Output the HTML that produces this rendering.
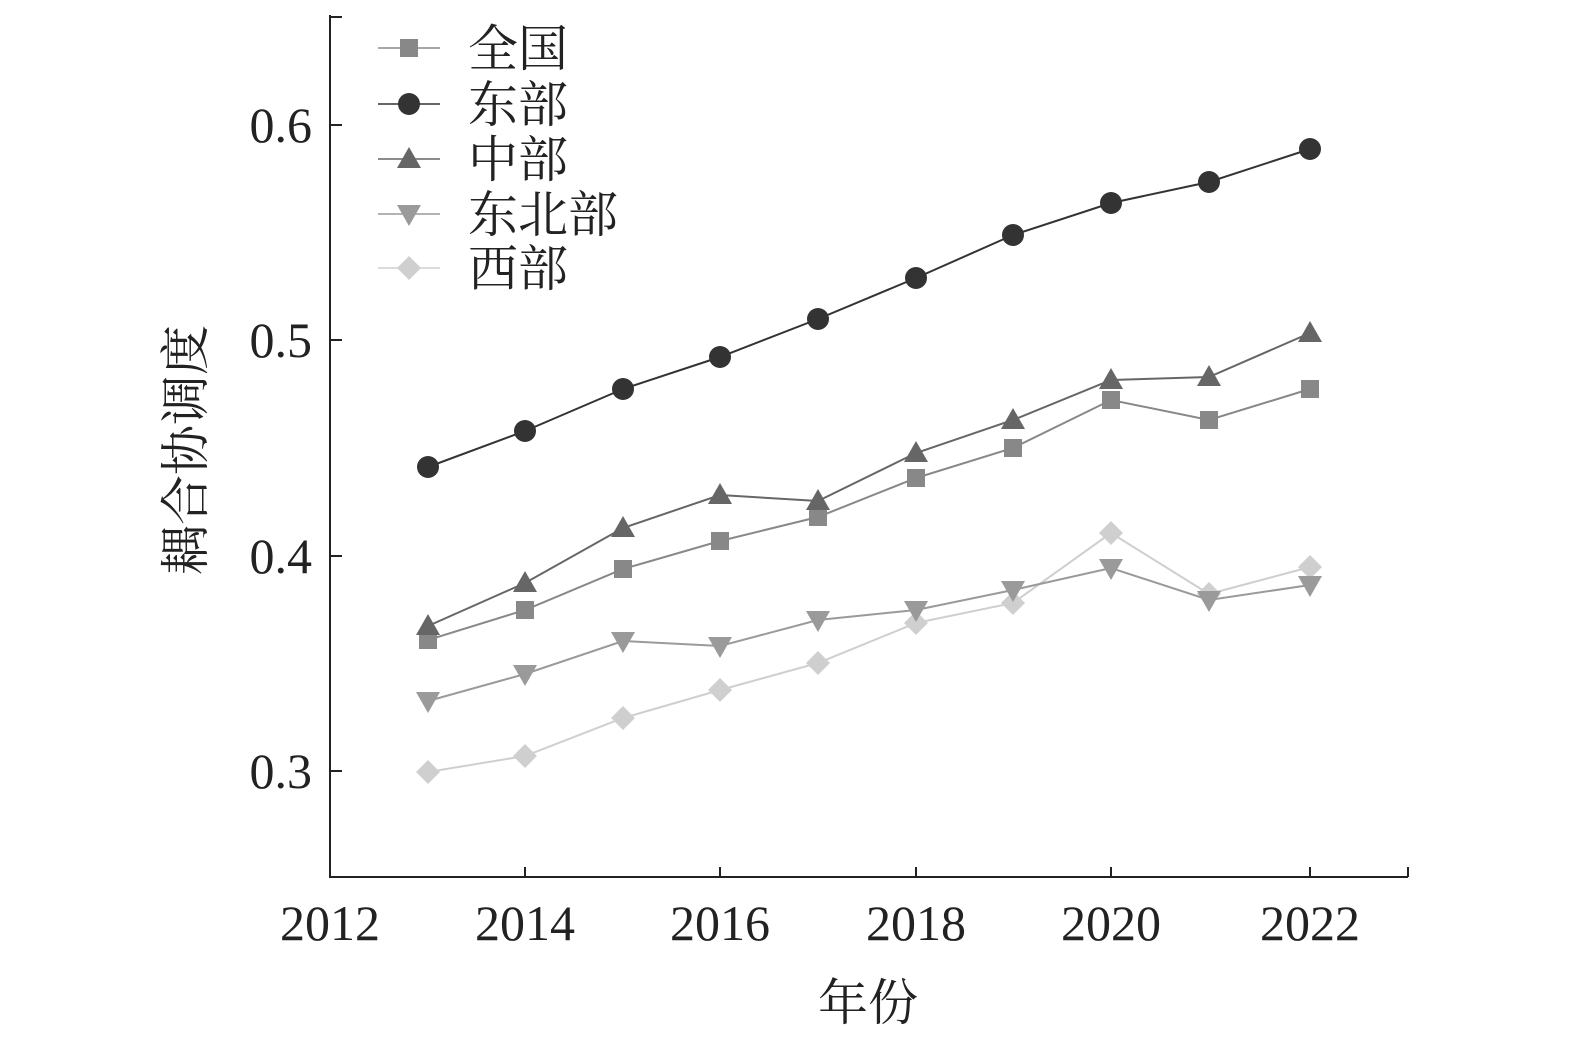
<!DOCTYPE html>
<html><head><meta charset="utf-8"><style>html,body{margin:0;padding:0;background:#fff}</style></head><body>
<svg width="1575" height="1044" xmlns="http://www.w3.org/2000/svg" font-family="'Liberation Serif','Noto Serif CJK SC',serif">
<rect width="1575" height="1044" fill="#fff"/>
<g stroke="#222" stroke-width="2" fill="none">
<path d="M330 15V877H1408"/>
<path d="M330 17h12M330 125h12M330 340h12M330 556h12M330 771h12"/>
<path d="M525 877v-10M720 877v-10M916 877v-10M1111 877v-10M1310 877v-10M1408 877v-10"/>
</g>
<g font-size="50" fill="#222" text-anchor="end">
<text x="312" y="142">0.6</text><text x="312" y="357">0.5</text><text x="312" y="573">0.4</text><text x="312" y="788">0.3</text>
</g>
<g font-size="50" fill="#222" text-anchor="middle">
<text x="330" y="940">2012</text><text x="525" y="940">2014</text><text x="720" y="940">2016</text><text x="916" y="940">2018</text><text x="1111" y="940">2020</text><text x="1310" y="940">2022</text>
<text x="868" y="1020" font-size="50">年份</text>
<text transform="translate(203,450) rotate(-90)" font-size="50">耦合协调度</text>
</g>
<defs>
<rect id="sq" x="-9" y="-9" width="18" height="18"/>
<circle id="ci" r="11"/>
<path id="tu" d="M0 -12L12 9H-12Z"/>
<path id="td" d="M0 12L12 -9H-12Z"/>
<path id="di" d="M0 -12L12 0L0 12L-12 0Z"/>
</defs>
<g fill="#cfcfcf" stroke="#cfcfcf">
<polyline fill="none" stroke-width="2" points="428,772 525,756 623,718 720,690 818,663 916,623 1013,603 1111,533 1209,594 1310,567"/>
<g stroke="none"><use href="#di" x="428" y="772"/><use href="#di" x="525" y="756"/><use href="#di" x="623" y="718"/><use href="#di" x="720" y="690"/><use href="#di" x="818" y="663"/><use href="#di" x="916" y="623"/><use href="#di" x="1013" y="603"/><use href="#di" x="1111" y="533"/><use href="#di" x="1209" y="594"/><use href="#di" x="1310" y="567"/></g>
</g>
<g fill="#9a9a9a" stroke="#9a9a9a">
<polyline fill="none" stroke-width="2" points="428,701 525,674 623,641 720,646 818,620 916,610 1013,590 1111,568 1209,600 1310,585"/>
<g stroke="none"><use href="#td" x="428" y="701"/><use href="#td" x="525" y="674"/><use href="#td" x="623" y="641"/><use href="#td" x="720" y="646"/><use href="#td" x="818" y="620"/><use href="#td" x="916" y="610"/><use href="#td" x="1013" y="590"/><use href="#td" x="1111" y="568"/><use href="#td" x="1209" y="600"/><use href="#td" x="1310" y="585"/></g>
</g>
<g fill="#888" stroke="#888">
<polyline fill="none" stroke-width="2" points="428,640 525,610 623,569 720,541 818,517 916,478 1013,448 1111,400 1209,420 1310,389"/>
<g stroke="none"><use href="#sq" x="428" y="640"/><use href="#sq" x="525" y="610"/><use href="#sq" x="623" y="569"/><use href="#sq" x="720" y="541"/><use href="#sq" x="818" y="517"/><use href="#sq" x="916" y="478"/><use href="#sq" x="1013" y="448"/><use href="#sq" x="1111" y="400"/><use href="#sq" x="1209" y="420"/><use href="#sq" x="1310" y="389"/></g>
</g>
<g fill="#666" stroke="#666">
<polyline fill="none" stroke-width="2" points="428,626 525,583 623,528 720,495 818,501 916,453 1013,420 1111,380 1209,377 1310,333"/>
<g stroke="none"><use href="#tu" x="428" y="626"/><use href="#tu" x="525" y="583"/><use href="#tu" x="623" y="528"/><use href="#tu" x="720" y="495"/><use href="#tu" x="818" y="501"/><use href="#tu" x="916" y="453"/><use href="#tu" x="1013" y="420"/><use href="#tu" x="1111" y="380"/><use href="#tu" x="1209" y="377"/><use href="#tu" x="1310" y="333"/></g>
</g>
<g fill="#333" stroke="#333">
<polyline fill="none" stroke-width="2" points="428,467 525,431 623,389 720,357 818,319 916,278 1013,235 1111,203 1209,182 1310,149"/>
<g stroke="none"><use href="#ci" x="428" y="467"/><use href="#ci" x="525" y="431"/><use href="#ci" x="623" y="389"/><use href="#ci" x="720" y="357"/><use href="#ci" x="818" y="319"/><use href="#ci" x="916" y="278"/><use href="#ci" x="1013" y="235"/><use href="#ci" x="1111" y="203"/><use href="#ci" x="1209" y="182"/><use href="#ci" x="1310" y="149"/></g>
</g>
<g stroke-width="1.5">
<line x1="378" y1="48" x2="440" y2="48" stroke="#888"/><use href="#sq" x="409" y="48" fill="#888"/>
<line x1="378" y1="104" x2="440" y2="104" stroke="#333"/><use href="#ci" x="409" y="104" fill="#333"/>
<line x1="378" y1="159" x2="440" y2="159" stroke="#666"/><use href="#tu" x="409" y="159" fill="#666"/>
<line x1="378" y1="214" x2="440" y2="214" stroke="#9a9a9a"/><use href="#td" x="409" y="214" fill="#9a9a9a"/>
<line x1="378" y1="268" x2="440" y2="268" stroke="#cfcfcf"/><use href="#di" x="409" y="268" fill="#cfcfcf"/>
</g>
<g font-size="50" fill="#222">
<text x="468" y="66">全国</text><text x="468" y="122">东部</text><text x="468" y="177">中部</text><text x="468" y="232">东北部</text><text x="468" y="286">西部</text>
</g>
</svg>
</body></html>
